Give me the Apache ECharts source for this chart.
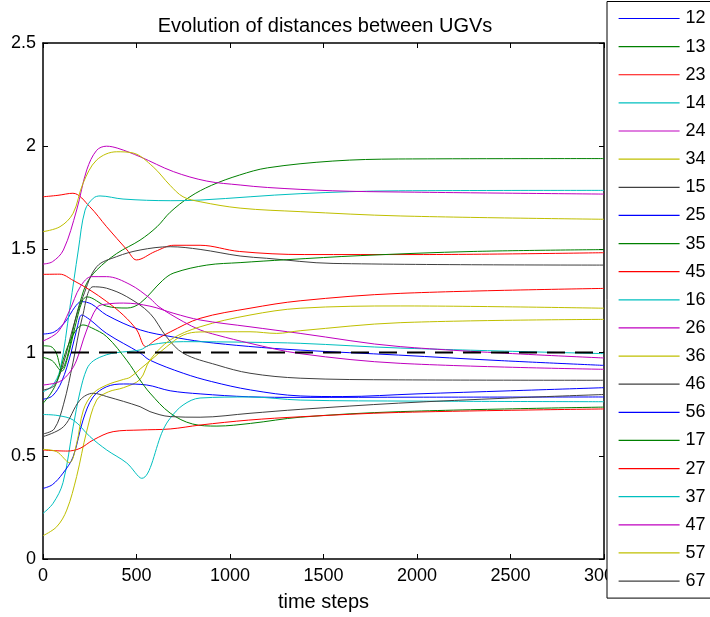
<!DOCTYPE html>
<html><head><meta charset="utf-8">
<script src="https://cdn.jsdelivr.net/npm/echarts@6/dist/echarts.min.js"></script>
<style>html,body{margin:0;padding:0;background:#fff}#c{width:710px;height:617px}</style>
</head><body><div id="c"></div>
<script>
// pair labels (legend order)
const names = ['12','13','23','14','24','34','15','25','35','45','16','26','36','46','56','17','27','37','47','57','67'];
const colorCycle = ['#0000ff','#008000','#ff0000','#00bfbf','#bf00bf','#bfbf00','#404040'];
const titleText = 'Evolution of distances between UGVs';
const xLabel = 'time steps';
const refLevel = 1;

// [time step, distance]
const d12 = [[0,1.09],[60,1.10],[120,1.15],[170,1.22],[205,1.247],[260,1.235],[340,1.182],[520,1.11],[700,1.075],[850,1.053],[1100,1.03],[1375,1.012],[1900,0.988],[2450,0.961],[3000,0.938]];
const d13 = [[0,1.033],[40,1.03],[70,1.0],[100,0.92],[130,0.98],[170,1.15],[200,1.25],[234,1.336],[287,1.40],[394,1.48],[519,1.545],[610,1.61],[680,1.68],[786,1.755],[900,1.81],[1050,1.86],[1200,1.895],[1550,1.928],[1900,1.938],[3000,1.94]];
const d23 = [[0,1.755],[80,1.762],[160,1.772],[250,1.707],[340,1.61],[450,1.497],[500,1.449],[600,1.49],[700,1.52],[840,1.52],[1050,1.49],[1400,1.475],[2000,1.475],[3000,1.484]];
const d14 = [[0,0.81],[50,0.84],[91,0.916],[144,1.22],[189,1.497],[225,1.69],[269,1.748],[305,1.759],[428,1.744],[680,1.736],[840,1.739],[1375,1.77],[1900,1.784],[3000,1.786]];
const d24 = [[0,1.429],[50,1.44],[109,1.497],[180,1.691],[234,1.885],[287,1.98],[340,2.0],[400,1.99],[519,1.949],[697,1.877],[876,1.831],[1054,1.812],[1200,1.80],[1550,1.784],[1910,1.778],[3000,1.768]];
const d34 = [[0,1.586],[91,1.61],[161,1.675],[214,1.82],[287,1.933],[394,1.973],[482,1.967],[589,1.90],[680,1.81],[749,1.755],[840,1.731],[1054,1.70],[1375,1.683],[1910,1.662],[3000,1.646]];
const d15 = [[0,0.819],[60,0.84],[110,0.95],[160,1.12],[214,1.271],[287,1.416],[394,1.465],[519,1.497],[680,1.513],[840,1.50],[1054,1.468],[1196,1.457],[1551,1.432],[3000,1.424]];
const d25 = [[0,0.774],[50,0.79],[100,0.86],[150,1.0],[185,1.13],[207,1.182],[250,1.16],[340,1.093],[520,0.998],[570,0.964],[750,0.90],[900,0.86],[1110,0.819],[1375,0.79],[1600,0.787],[2000,0.80],[2500,0.815],[3000,0.830]];
const d35 = [[0,0.977],[50,0.96],[100,0.91],[130,0.97],[170,1.12],[210,1.25],[235,1.27],[340,1.225],[450,1.216],[520,1.24],[640,1.35],[700,1.386],[876,1.424],[1054,1.436],[1300,1.45],[1700,1.47],[2300,1.49],[3000,1.499]];
const d45 = [[0,1.379],[90,1.38],[161,1.35],[251,1.303],[341,1.247],[429,1.182],[501,1.11],[550,1.029],[600,1.06],[680,1.10],[840,1.166],[1107,1.215],[1375,1.251],[1910,1.287],[3000,1.311]];
const d16 = [[0,0.221],[54,0.27],[107,0.37],[161,0.64],[198,0.81],[234,0.92],[269,0.96],[341,0.99],[394,1.0],[519,1.013],[572,1.037],[750,1.053],[1107,1.05],[1375,1.045],[1910,1.022],[3000,0.995]];
const d26 = [[0,1.056],[80,1.10],[140,1.20],[200,1.32],[260,1.368],[340,1.368],[465,1.33],[572,1.263],[620,1.222],[750,1.15],[840,1.11],[930,1.085],[1107,1.045],[1375,0.995],[1910,0.948],[3000,0.919]];
const d36 = [[0,0.113],[73,0.156],[127,0.237],[180,0.40],[234,0.62],[287,0.77],[350,0.81],[430,0.83],[519,0.87],[572,0.964],[680,1.061],[840,1.125],[1107,1.182],[1375,1.215],[1910,1.226],[3000,1.215]];
const d46 = [[0,0.606],[60,0.63],[110,0.75],[160,0.95],[210,1.17],[268,1.319],[340,1.312],[448,1.271],[572,1.19],[660,1.077],[750,0.997],[930,0.94],[1107,0.90],[1375,0.876],[1900,0.868],[3000,0.866]];
const d56 = [[0,0.342],[50,0.36],[107,0.416],[161,0.495],[214,0.673],[268,0.785],[341,0.835],[430,0.848],[555,0.843],[680,0.815],[840,0.80],[1100,0.786],[1375,0.783],[2000,0.784],[3000,0.785]];
const d17 = [[0,0.754],[40,0.80],[75,0.86],[120,1.0],[170,1.10],[214,1.134],[260,1.12],[341,1.077],[450,0.96],[519,0.867],[572,0.804],[680,0.707],[800,0.654],[930,0.644],[1110,0.657],[1375,0.687],[1910,0.714],[3000,0.736]];
const d27 = [[0,0.528],[130,0.523],[198,0.536],[269,0.577],[375,0.617],[519,0.625],[680,0.63],[840,0.649],[1100,0.673],[1375,0.689],[1900,0.71],[3000,0.727]];
const d37 = [[0,0.70],[80,0.695],[162,0.673],[251,0.593],[341,0.528],[448,0.465],[528,0.391],[642,0.625],[680,0.682],[749,0.746],[840,0.78],[1107,0.785],[1375,0.77],[2000,0.765],[3000,0.762]];
const d47 = [[0,0.843],[90,0.86],[145,0.907],[180,0.964],[230,1.1],[290,1.22],[341,1.235],[430,1.24],[572,1.225],[700,1.19],[840,1.158],[1107,1.125],[1375,1.093],[1910,1.029],[3000,0.974]];
const d57 = [[0,0.531],[73,0.52],[141,0.467],[180,0.56],[216,0.722],[269,0.803],[341,0.843],[430,0.87],[465,0.88],[519,0.92],[572,0.96],[662,1.029],[750,1.085],[840,1.10],[1107,1.101],[1250,1.093],[1375,1.106],[1910,1.145],[3000,1.161]];
const d67 = [[0,0.593],[110,0.641],[198,0.77],[269,0.803],[341,0.787],[519,0.738],[572,0.714],[680,0.69],[840,0.687],[1107,0.706],[1375,0.725],[1900,0.755],[2500,0.78],[3000,0.797]];

const seriesValues = [d12,d13,d23,d14,d24,d34,d15,d25,d35,d45,d16,d26,d36,d46,d56,d17,d27,d37,d47,d57,d67];

const FONT = '"Liberation Sans", Arial, Helvetica, sans-serif';
const chart = echarts.init(document.getElementById('c'), null, {renderer:'canvas'});

const series = seriesValues.map((d, i) => ({
  name: names[i],
  type: 'line',
  data: d,
  symbol: 'none',
  showSymbol: false,
  smooth: 0.35,
  color: colorCycle[i % colorCycle.length],
  lineStyle: {width: 1, color: colorCycle[i % colorCycle.length]},
  emphasis: {disabled: true},
  animation: false
}));
series.push({
  name: 'ref',
  type: 'line',
  data: [[0, refLevel], [3000, refLevel]],
  symbol: 'none',
  lineStyle: {width: 2, color: '#000', type: [18, 10]},
  animation: false,
  z: 3
});

const axisCommon = {
  axisLine: {show: true, onZero: false, lineStyle: {color: '#000', width: 1.5}},
  axisTick: {show: true, inside: true, length: 5, lineStyle: {color: '#000', width: 1}},
  splitLine: {show: false}
};

chart.setOption({
  backgroundColor: '#fff',
  animation: false,
  title: {
    text: titleText,
    left: 320, top: 11, textAlign: 'center',
    textStyle: {fontFamily: FONT, fontSize: 20, fontWeight: 'normal', color: '#000'}
  },
  grid: {left: 43, top: 43, right: 106, bottom: 58, containLabel: false, outerBoundsMode: 'none'},
  legend: {
    data: names,
    orient: 'vertical',
    left: 607, top: 1.5,
    backgroundColor: '#fff',
    borderColor: '#000', borderWidth: 1,
    padding: [8, 40, 8, 11],
    itemWidth: 61, itemHeight: 18, itemGap: 10.13,
    itemStyle: {opacity: 0},
    lineStyle: {width: 1.2},
    textStyle: {fontFamily: FONT, fontSize: 18, color: '#000', lineHeight: 18, padding: [0,0,0,1]},
    selectedMode: false,
    z: 10
  },
  xAxis: [
    Object.assign({
      type: 'value', min: 0, max: 3000, interval: 500, position: 'bottom',
      axisLabel: {color: '#000', fontSize: 18, fontFamily: FONT, margin: 8, formatter: v => String(v)},
      name: xLabel, nameLocation: 'middle', nameGap: 33,
      nameTextStyle: {color: '#000', fontSize: 20, fontFamily: FONT}
    }, axisCommon),
    Object.assign({
      type: 'value', min: 0, max: 3000, interval: 500, position: 'top',
      axisLabel: {show: false}
    }, axisCommon)
  ],
  yAxis: [
    Object.assign({
      type: 'value', min: 0, max: 2.5, interval: 0.5, position: 'left',
      axisLabel: {color: '#000', fontSize: 18, fontFamily: FONT, margin: 7, formatter: v => String(v)}
    }, axisCommon),
    Object.assign({
      type: 'value', min: 0, max: 2.5, interval: 0.5, position: 'right',
      axisLabel: {show: false}
    }, axisCommon)
  ],
  series: series
});
</script>
</body></html>
